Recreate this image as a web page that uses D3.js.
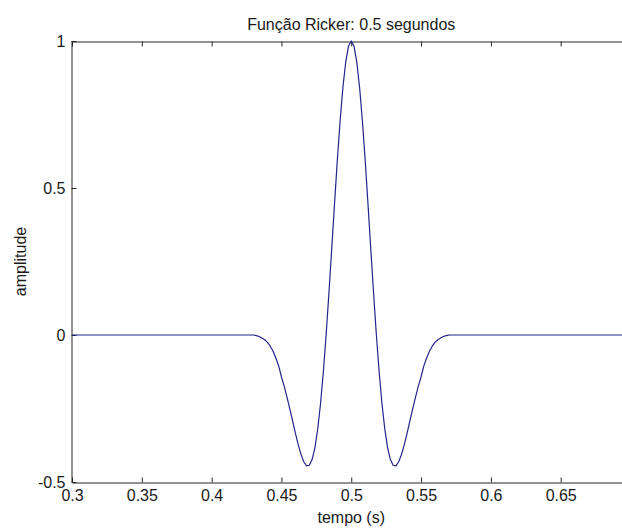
<!DOCTYPE html>
<html>
<head>
<meta charset="utf-8">
<script src="https://cdn.jsdelivr.net/npm/d3@7"></script>
<style>
  html, body { margin: 0; padding: 0; background: #fff; }
  svg { display: block; }
  text { font-family: "Liberation Sans", Arial, sans-serif; fill: #1a1a1a; }
</style>
</head>
<body>
<svg id="chart" width="622" height="529"></svg>
<script>
// Ricker wavelet centred at 0.5 s (time in seconds, amplitude normalised)
const tempo = [
  0.300,
  0.430, 0.432, 0.434, 0.436, 0.438, 0.440, 0.442, 0.444, 0.446, 0.448,
  0.450, 0.452, 0.454, 0.456, 0.458, 0.460, 0.462, 0.464, 0.466, 0.468,
  0.470, 0.472, 0.474, 0.476, 0.478, 0.480, 0.482, 0.484, 0.486, 0.488,
  0.490, 0.492, 0.494, 0.496, 0.498, 0.500, 0.502, 0.504, 0.506, 0.508,
  0.510, 0.512, 0.514, 0.516, 0.518, 0.520, 0.522, 0.524, 0.526, 0.528,
  0.530, 0.532, 0.534, 0.536, 0.538, 0.540, 0.542, 0.544, 0.546, 0.548,
  0.550, 0.552, 0.554, 0.556, 0.558, 0.560, 0.562, 0.564, 0.566, 0.568,
  0.570,
  0.700
];
const amplitude = [
  0,
  0, -0.002, -0.005, -0.010, -0.016, -0.025, -0.038, -0.055, -0.078, -0.105,
  -0.142, -0.175, -0.212, -0.251, -0.292, -0.334, -0.373, -0.406, -0.431, -0.445,
  -0.443, -0.423, -0.383, -0.319, -0.234, -0.126, 0.000, 0.142, 0.292, 0.445,
  0.593, 0.727, 0.841, 0.927, 0.982, 1.000, 0.982, 0.927, 0.841, 0.727,
  0.593, 0.445, 0.292, 0.142, 0.000, -0.126, -0.234, -0.319, -0.383, -0.423,
  -0.443, -0.445, -0.431, -0.406, -0.373, -0.334, -0.292, -0.251, -0.212, -0.175,
  -0.142, -0.105, -0.078, -0.055, -0.038, -0.025, -0.016, -0.010, -0.005, -0.002,
  0,
  0
];
const xTicks = [0.3, 0.35, 0.4, 0.45, 0.5, 0.55, 0.6, 0.65];
const yTicks = [-0.5, 0, 0.5, 1];
const titleText = "Função Ricker: 0.5 segundos";
const xLabel = "tempo (s)";
const yLabel = "amplitude";

const svg = d3.select("#chart");
const plotLeft = 72, plotRight = 630.5, plotTop = 41, plotBottom = 482;

const x = d3.scaleLinear().domain([0.3, 0.7]).range([plotLeft, plotRight]);
const y = d3.scaleLinear().domain([-0.5, 1]).range([plotBottom, plotTop]);
const fmt = d => String(+d.toFixed(2));

// axes with inward ticks (the right edge of the box falls outside the view)
const axisColor = "#262626";
function styleAxis(g) {
  g.select(".domain").attr("stroke", axisColor).attr("stroke-width", 1);
  g.selectAll(".tick line").attr("stroke", axisColor).attr("stroke-width", 1);
  g.selectAll(".tick text")
    .style("font-size", "16px")
    .attr("fill", "#1a1a1a");
}

svg.append("g")
  .attr("transform", `translate(0,${plotBottom + 0.5})`)
  .call(d3.axisBottom(x).tickValues(xTicks).tickFormat(fmt).tickSizeInner(-5).tickSizeOuter(0).tickPadding(6))
  .call(styleAxis)
  .call(g => g.selectAll(".tick text").attr("y", 18).attr("dy", 0));

svg.append("g")
  .attr("transform", `translate(0,${plotTop + 0.5})`)
  .call(d3.axisTop(x).tickValues(xTicks).tickFormat("").tickSizeInner(-5).tickSizeOuter(0))
  .call(styleAxis);

svg.append("g")
  .attr("transform", `translate(${plotLeft - 0.5},0)`)
  .call(d3.axisLeft(y).tickValues(yTicks).tickFormat(fmt).tickSizeInner(-5).tickSizeOuter(0).tickPadding(6))
  .call(styleAxis)
  .call(g => g.selectAll(".tick text").attr("x", -6));

// wavelet curve
const line = d3.line()
  .x((d, i) => x(tempo[i]))
  .y(d => y(d));

svg.append("path")
  .datum(amplitude)
  .attr("d", line)
  .attr("fill", "none")
  .attr("stroke", "#23238c")
  .attr("stroke-width", 1.2)
  .attr("stroke-linejoin", "round");

// title and axis labels
svg.append("text")
  .attr("x", (plotLeft + plotRight) / 2)
  .attr("y", 30)
  .attr("text-anchor", "middle")
  .style("font-size", "16px")
  .text(titleText);

svg.append("text")
  .attr("x", (plotLeft + plotRight) / 2)
  .attr("y", 523)
  .attr("text-anchor", "middle")
  .style("font-size", "16px")
  .text(xLabel);

svg.append("text")
  .attr("transform", `translate(26,${(plotTop + plotBottom) / 2}) rotate(-90)`)
  .attr("text-anchor", "middle")
  .style("font-size", "16px")
  .text(yLabel);
</script>
</body>
</html>
